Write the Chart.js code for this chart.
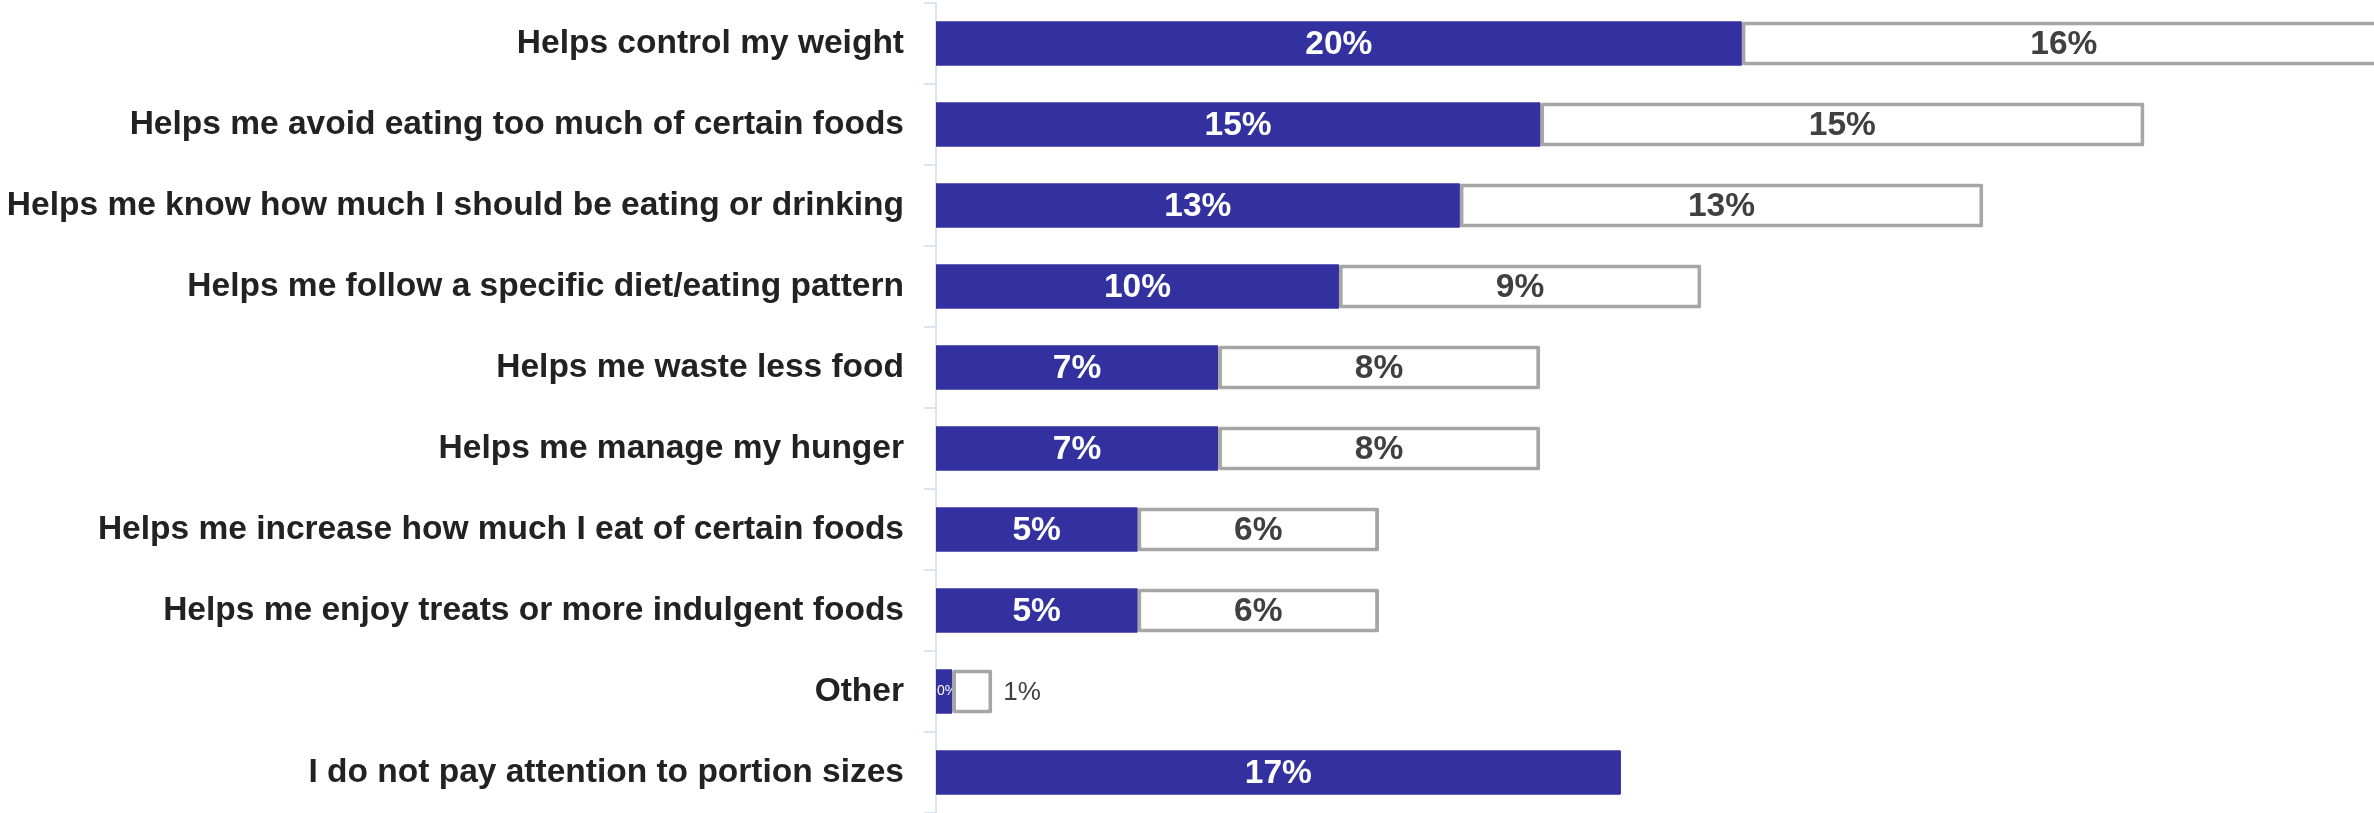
<!DOCTYPE html>
<html>
<head>
<meta charset="utf-8">
<script src="https://cdn.jsdelivr.net/npm/chart.js@4/dist/chart.umd.min.js"></script>
<style>
  html, body { margin: 0; padding: 0; background: #ffffff; }
  #wrap { width: 2374px; height: 813px; position: relative; }
</style>
</head>
<body>
<div id="wrap"><canvas id="chart"></canvas></div>
<script>
// Reasons for paying attention to portion sizes
const categories = [
  'Helps control my weight',
  'Helps me avoid eating too much of certain foods',
  'Helps me know how much I should be eating or drinking',
  'Helps me follow a specific diet/eating pattern',
  'Helps me waste less food',
  'Helps me manage my hunger',
  'Helps me increase how much I eat of certain foods',
  'Helps me enjoy treats or more indulgent foods',
  'Other',
  'I do not pay attention to portion sizes'
];
const mainReason = [20, 15, 13, 10, 7, 7, 5, 5, 0, 17];
const otherReasons = [16, 15, 13, 9, 8, 8, 6, 6, 1, null];

const FONT = "'Liberation Sans', Arial, sans-serif";
const BLUE = '#3330a0';

// Percent labels: centred in the bar when they fit, otherwise small or outside
const valueLabels = {
  id: 'valueLabels',
  afterDatasetsDraw(chart) {
    const ctx = chart.ctx;
    const area = chart.chartArea;
    // keep the main-reason bars above the stacked segment next to them
    const first = chart.getDatasetMeta(0);
    ctx.save();
    ctx.beginPath();
    ctx.rect(area.left, area.top, area.right - area.left, area.bottom - area.top);
    ctx.clip();
    first.data.forEach(el => el.draw(ctx));
    ctx.restore();

    chart.data.datasets.forEach((ds, i) => {
      const meta = chart.getDatasetMeta(i);
      meta.data.forEach((el, j) => {
        const v = ds.data[j];
        if (v === null || v === undefined) return;
        const p = el.getProps(['x', 'base', 'y', 'height'], true);
        const left = Math.min(p.x, p.base), right = Math.max(p.x, p.base);
        const w = right - left;
        const text = v + '%';
        ctx.save();
        ctx.textBaseline = 'middle';
        ctx.font = 'bold 33.5px ' + FONT;
        const tw = ctx.measureText(text).width;
        if (tw + 8 <= w) {
          ctx.textAlign = 'center';
          ctx.fillStyle = i === 0 ? '#ffffff' : '#404040';
          ctx.fillText(text, (left + right) / 2, p.y + 1);
        } else if (i === 0) {
          ctx.beginPath();
          ctx.rect(left, p.y - p.height / 2, w, p.height);
          ctx.clip();
          ctx.font = '14px ' + FONT;
          ctx.textAlign = 'left';
          ctx.fillStyle = '#ffffff';
          ctx.fillText(text, left + 1, p.y);
        } else {
          ctx.font = '26px ' + FONT;
          ctx.textAlign = 'left';
          ctx.fillStyle = '#404040';
          ctx.fillText(text, right + 11, p.y + 1);
        }
        ctx.restore();
      });
    });
  }
};

new Chart(document.getElementById('chart'), {
  type: 'bar',
  data: {
    labels: categories,
    datasets: [
      {
        label: 'Main reason',
        data: mainReason,
        backgroundColor: BLUE,
        borderWidth: 0,
        borderRadius: 1,
        barPercentage: 0.543,
        categoryPercentage: 1,
        minBarLength: 16
      },
      {
        label: 'Other reasons',
        data: otherReasons,
        backgroundColor: '#ffffff',
        borderColor: '#a6a6a6',
        borderWidth: 4,
        borderSkipped: false,
        borderRadius: 2,
        barPercentage: 0.543,
        categoryPercentage: 1
      }
    ]
  },
  options: {
    indexAxis: 'y',
    responsive: true,
    maintainAspectRatio: false,
    animation: false,
    layout: { padding: { top: 3, right: 0, bottom: 0, left: 0 } },
    plugins: {
      legend: { display: false },
      tooltip: { enabled: false }
    },
    scales: {
      x: {
        stacked: true,
        display: false,
        min: 0,
        max: 35.7
      },
      y: {
        stacked: true,
        grid: {
          offset: true,
          drawOnChartArea: false,
          tickLength: 12,
          color: '#dbe5f1',
          lineWidth: 2
        },
        border: { color: '#dbe5f1', width: 2 },
        ticks: {
          color: '#222222',
          font: { family: FONT, size: 33.5, weight: 'bold' },
          padding: 20,
          autoSkip: false
        },
        afterFit(scale) {
          scale.width = 936;
          scale.paddingTop = 0;
          scale.paddingBottom = 0;
        }
      }
    }
  },
  plugins: [valueLabels]
});
</script>
</body>
</html>
